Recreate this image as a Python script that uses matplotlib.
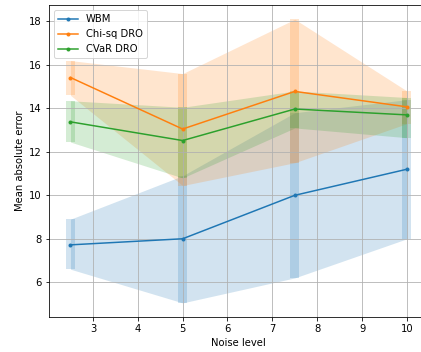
import matplotlib as mpl
mpl.use("Agg")
import matplotlib.pyplot as plt
import numpy as np

# Noise levels on the x axis
noise = np.array([2.5, 5.0, 7.5, 10.0])

# Mean absolute error with lower / upper spread per method
wbm_mean = np.array([7.72, 8.0, 10.0, 11.2])
wbm_lo = np.array([6.6, 5.05, 6.2, 8.0])
wbm_hi = np.array([8.9, 10.9, 13.8, 14.4])

chisq_mean = np.array([15.42, 13.05, 14.78, 14.07])
chisq_lo = np.array([14.6, 10.45, 11.5, 13.3])
chisq_hi = np.array([16.2, 15.6, 18.1, 14.8])

cvar_mean = np.array([13.38, 12.52, 13.97, 13.7])
cvar_lo = np.array([12.45, 10.8, 13.1, 12.65])
cvar_hi = np.array([14.35, 14.05, 14.8, 14.5])

SERIES = [
    ("WBM", wbm_mean, wbm_lo, wbm_hi, "C0"),
    ("Chi-sq DRO", chisq_mean, chisq_lo, chisq_hi, "C1"),
    ("CVaR DRO", cvar_mean, cvar_lo, cvar_hi, "C2"),
]

DPI = 72
fig = plt.figure(figsize=(421 / DPI, 352 / DPI), dpi=DPI)
ax = fig.add_axes([0.1157, 0.0994, 0.9026, 0.886])

for label, mean, lo, hi, color in SERIES:
    ax.plot(noise, mean, marker=".", color=color, label=label)
    ax.fill_between(noise, lo, hi, color=color, alpha=0.2, linewidth=0)
    ax.bar(noise, hi - lo, bottom=lo, width=0.2, color=color, alpha=0.2)

ax.set_xlim(2.015, 10.485)
ax.set_ylim(4.4, 18.75)
ax.set_xlabel("Noise level")
ax.set_ylabel("Mean absolute error")
ax.grid(True)
ax.legend(loc="upper left")

fig.savefig("out.png", dpi=DPI)
